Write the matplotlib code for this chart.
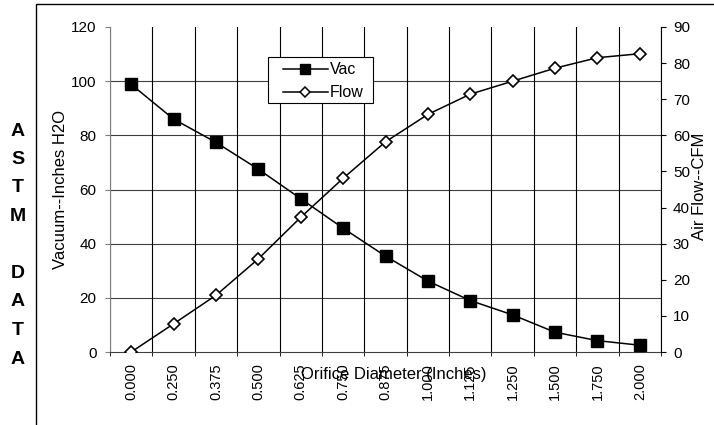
import matplotlib
matplotlib.use("Agg")
import matplotlib.pyplot as plt
from matplotlib.patches import Rectangle
import numpy as np

plt.rcParams['font.family'] = ['Liberation Sans', 'DejaVu Sans']

diameters = ["0.000", "0.250", "0.375", "0.500", "0.625", "0.750", "0.875",
             "1.000", "1.125", "1.250", "1.500", "1.750", "2.000"]
vac = [98.8, 86.0, 77.4, 67.5, 56.6, 45.7, 35.4, 26.2, 19.0, 13.7, 7.3, 4.2, 2.5]
flow = [0.0, 7.8, 15.7, 25.8, 37.3, 48.1, 58.2, 65.8, 71.4, 75.0, 78.6, 81.5, 82.6]
left_ticks = [0, 20, 40, 60, 80, 100, 120]
right_ticks = [0, 10, 20, 30, 40, 50, 60, 70, 80, 90]
side_letters = ["A", "S", "T", "M", "D", "A", "T", "A"]

fig = plt.figure(figsize=(7.14, 4.25), dpi=100)
W, H = 714, 425
l, r, t, b = 110, 661, 27, 352
ax = fig.add_axes([l / W, 1 - b / H, (r - l) / W, (b - t) / H])


def axx(px):
    return (px - l) / (r - l)


def axy(py):
    return (b - py) / (b - t)


x = np.arange(len(diameters))
ax.set_xlim(-0.5, len(diameters) - 0.5)
ax.set_ylim(0, 120)
ax.set_yticks(left_ticks)
ax.set_xticks(x)
ax.set_xticklabels(diameters, rotation=90, fontsize=10.5)
ax.set_xticks(np.arange(-0.5, len(diameters), 1), minor=True)
ax.tick_params(axis='x', which='major', length=0, pad=8)
ax.tick_params(axis='x', which='minor', length=3, direction='out', color='black')
ax.tick_params(axis='y', which='major', length=3.6, direction='out', labelsize=11,
               color='#808080', pad=6)
ax.grid(True, axis='x', which='minor', color='black', lw=0.8)
for v in left_ticks[1:-1]:
    ax.axhline(v, color='#404040', lw=0.8, zorder=1)

ax.spines['top'].set_visible(False)
ax.spines['left'].set_color('#808080')
ax.spines['bottom'].set_color('#404040')
ax.spines['right'].set_visible(False)

ax2 = ax.twinx()
ax2.set_ylim(0, 90)
ax2.set_yticks(right_ticks)
ax2.tick_params(axis='y', length=3.6, direction='out', labelsize=11, color='black', pad=5)
for s in ['top', 'left', 'bottom']:
    ax2.spines[s].set_visible(False)
ax2.spines['right'].set_color('black')

ax.plot(x, vac, color='black', lw=1.1, marker='s', markersize=8.5,
        markerfacecolor='black', markeredgecolor='black', zorder=5, label='Vac')
ax2.plot(x, flow, color='black', lw=1.1, marker='D', markersize=6.5,
         markerfacecolor='white', markeredgecolor='black', markeredgewidth=1.2,
         zorder=5, label='Flow')

# legend box drawn explicitly, legend entries without frame
ax2.add_patch(Rectangle((axx(268), axy(103)), axx(373) - axx(268), axy(57) - axy(103),
                        transform=ax2.transAxes, facecolor='white', edgecolor='black',
                        lw=0.8, zorder=8, clip_on=False))
l1b, = ax.plot([], [], color='black', lw=1.1, marker='s', markersize=6.5)
l2b, = ax.plot([], [], color='black', lw=1.1, marker='D', markersize=5,
               markerfacecolor='white', markeredgecolor='black', markeredgewidth=1.1)
leg = ax2.legend([l1b, l2b], ['Vac', 'Flow'], loc='upper left',
                 bbox_to_anchor=(axx(283), axy(62.5)),
                 borderaxespad=0, frameon=False, fontsize=11.5,
                 handlelength=2.8, handletextpad=0.12, borderpad=0,
                 labelspacing=0.5)
leg.set_zorder(9)

ax.set_ylabel("Vacuum--Inches H2O", fontsize=12)
ax.yaxis.set_label_coords(axx(68), 0.5)
ax2.set_ylabel("Air Flow--CFM", fontsize=12)
ax2.yaxis.set_label_coords(axx(692), 0.51)
ax.set_xlabel("Orifice Diameter (Inches)", fontsize=12)
ax.xaxis.set_label_coords(axx(394), axy(367))

# outer frame
fig.patches.append(Rectangle((36 / W, -0.1), 1.2, 1.1 - 4 / H, transform=fig.transFigure,
                             fill=False, edgecolor='black', lw=1.0))

ys = [131, 159.5, 188, 216.5, 273.5, 302, 330.5, 359]
for ch, yy in zip(side_letters, ys):
    fig.text(18 / W, 1 - yy / H, ch, ha='center', va='center', fontsize=14,
             fontweight='bold')

fig.savefig("out.png", dpi=100)
